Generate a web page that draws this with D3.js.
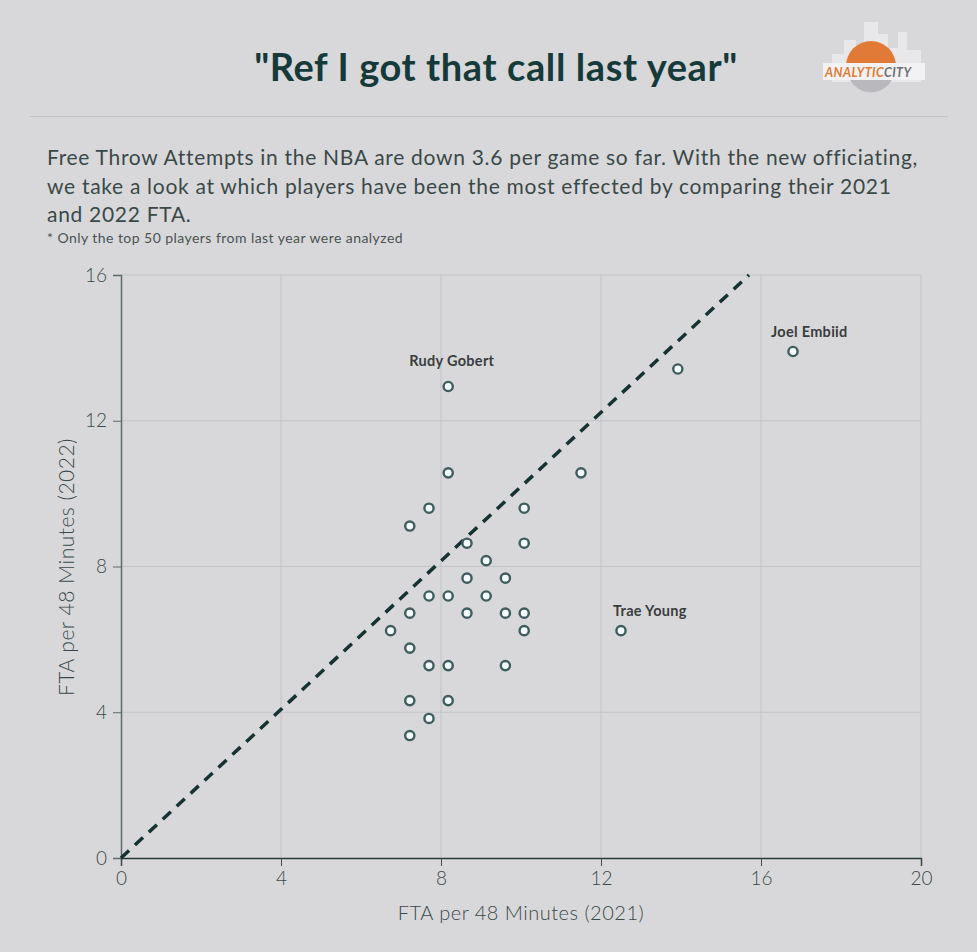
<!DOCTYPE html>
<html>
<head>
<meta charset="utf-8">
<script src="https://cdn.jsdelivr.net/npm/d3@7"></script>
<style>
  body { margin: 0; background: #d8d8da; }
  svg { display: block; font-family: Lato, "Open Sans", sans-serif; }
</style>
</head>
<body>
<script>
// FTA per 48 minutes, 2021 vs 2022
let fta2021 = [8.18, 13.92, 16.8, 8.18, 11.5, 7.7, 10.08, 7.22, 8.65, 10.08, 9.13, 8.65, 9.61,
               7.7, 8.18, 9.13, 7.22, 8.65, 9.61, 10.08, 6.74, 10.08, 12.5, 7.22, 7.7, 8.18, 9.61,
               7.22, 8.18, 7.7, 7.22]
let fta2022 = [12.94, 13.42, 13.9, 10.57, 10.57, 9.6, 9.6, 9.11, 8.64, 8.64, 8.16, 7.68, 7.68,
               7.19, 7.19, 7.19, 6.72, 6.72, 6.72, 6.72, 6.24, 6.24, 6.24, 5.76, 5.28, 5.28, 5.28,
               4.32, 4.32, 3.83, 3.36]
let labelNames = ["Rudy Gobert", "Joel Embiid", "Trae Young"]
let labelIndex = [0, 2, 22]
let xTicks = [0, 4, 8, 12, 16, 20]
let yTicks = [0, 4, 8, 12, 16]
let refLine = [[0, 0], [15.7, 16]]   // dashed reference line

let width = 977
let height = 952

let svg = d3.select('body')
    .append('svg')
    .attr('width', width)
    .attr('height', height)

svg.append('rect').attr('width', width).attr('height', height).attr('fill', '#d8d8da')

// title + rule
svg.append('text')
    .attr('x', 496).attr('y', 81)
    .attr('text-anchor', 'middle')
    .attr('font-size', 38).attr('font-weight', 700)
    .attr('letter-spacing', 0.6)
    .attr('fill', '#163a3a')
    .text('"Ref I got that call last year"')

svg.append('line')
    .attr('x1', 30).attr('x2', 948).attr('y1', 116.5).attr('y2', 116.5)
    .attr('stroke', '#c2c2c4')

// logo (rough)
let logo = svg.append('g').attr('transform', 'translate(822,20)')
let sky = [[10, 34, 12, 28], [22, 20, 12, 42], [34, 26, 8, 36], [42, 2, 14, 60], [56, 14, 10, 48], [66, 28, 10, 34], [76, 12, 9, 50], [85, 30, 14, 32]]
sky.forEach(function(b){
    logo.append('rect').attr('x', b[0]).attr('y', b[1]).attr('width', b[2]).attr('height', b[3]).attr('fill', '#e8e8ea')
})
logo.append('path').attr('d', 'M24,46 A25,25 0 0,1 74,46 Z').attr('fill', '#e07a36')
logo.append('path').attr('d', 'M28,60 A24,24 0 0,0 70,60 Z').attr('fill', '#b9b9bd')
logo.append('rect').attr('x', 1).attr('y', 43).attr('width', 102).attr('height', 17).attr('fill', '#f2f2f4')
let logoText = logo.append('text').attr('x', 3).attr('y', 56.5)
    .attr('font-size', 12.5).attr('font-weight', 700).attr('font-style', 'italic')
    .attr('letter-spacing', 0.4)
logoText.append('tspan').attr('fill', '#e07a36').text('ANALYTIC')
logoText.append('tspan').attr('fill', '#6f6f75').text('CITY')

// subtitle
let sub = [
    'Free Throw Attempts in the NBA are down 3.6 per game so far. With the new officiating,',
    'we take a look at which players have been the most effected by comparing their 2021',
    'and 2022 FTA.'
]
svg.selectAll('.sub')
    .data(sub)
    .enter().append('text')
    .attr('class', 'sub')
    .attr('x', 47)
    .attr('y', function(d, i){ return 165 + i * 28.5 })
    .attr('font-size', 21)
    .attr('letter-spacing', 0.7)
    .attr('fill', '#3b4848')
    .text(function(d){ return d })

svg.append('text')
    .attr('x', 47).attr('y', 243)
    .attr('font-size', 14)
    .attr('letter-spacing', 0.45)
    .attr('fill', '#4a5252')
    .text('* Only the top 50 players from last year were analyzed')

// scales
let xScale = d3.scaleLinear().domain([0, 20]).range([121, 921])
let yScale = d3.scaleLinear().domain([0, 16]).range([858, 275])

// grid
svg.append('g')
    .selectAll('line')
    .data(xTicks.slice(1))
    .enter().append('line')
    .attr('x1', function(d){ return xScale(d) }).attr('x2', function(d){ return xScale(d) })
    .attr('y1', yScale(16)).attr('y2', yScale(0))
    .attr('stroke', '#c4c4c6')

svg.append('g')
    .selectAll('line')
    .data(yTicks.slice(1))
    .enter().append('line')
    .attr('x1', xScale(0)).attr('x2', xScale(20))
    .attr('y1', function(d){ return yScale(d) }).attr('y2', function(d){ return yScale(d) })
    .attr('stroke', '#c4c4c6')

// axes
let y_axis = d3.axisLeft(yScale).tickValues(yTicks).tickSize(8).tickPadding(6)
let x_axis = d3.axisBottom(xScale).tickValues(xTicks).tickSize(8).tickPadding(6)

let gy = svg.append('g').attr('transform', 'translate(121,0)').call(y_axis)
gy.select('.domain').attr('stroke', '#5e6a6a').attr('stroke-width', 1.5)
gy.selectAll('.tick line').attr('stroke', '#5e6a6a')

let gx = svg.append('g').attr('transform', 'translate(0,858)').call(x_axis)
gx.select('.domain').attr('stroke', '#263838').attr('stroke-width', 1.5)
gx.selectAll('.tick line').attr('stroke', '#3e4c4c')

svg.selectAll('.tick text')
    .attr('font-size', 19).attr('font-weight', 300)
    .attr('font-family', 'Lato, sans-serif')
    .attr('fill', '#3b4848')

svg.append('text')
    .attr('x', 521).attr('y', 920)
    .attr('text-anchor', 'middle')
    .attr('font-size', 20).attr('font-weight', 300)
    .attr('letter-spacing', 0.5)
    .attr('fill', '#3b4848')
    .text('FTA per 48 Minutes (2021)')

svg.append('text')
    .attr('transform', 'translate(74,567) rotate(-90)')
    .attr('text-anchor', 'middle')
    .attr('font-size', 21).attr('font-weight', 300)
    .attr('letter-spacing', 0.5)
    .attr('fill', '#3b4848')
    .text('FTA per 48 Minutes (2022)')

// reference line
svg.append('path')
    .datum(refLine)
    .attr('d', d3.line().x(function(d){ return xScale(d[0]) }).y(function(d){ return yScale(d[1]) }))
    .attr('stroke', '#173232')
    .attr('stroke-width', 3.5)
    .attr('stroke-dasharray', '11,8')
    .attr('fill', 'none')

// points
svg.append('g')
    .selectAll('circle')
    .data(fta2021)
    .enter().append('circle')
    .attr('cx', function(d){ return xScale(d) })
    .attr('cy', function(d, i){ return yScale(fta2022[i]) })
    .attr('r', 4.6)
    .attr('fill', '#f4fbfb')
    .attr('stroke', '#3f5d5d')
    .attr('stroke-width', 2.4)

// labels
let labelDx = [-39, -22, -8]
let labelDy = [-20, -15, -15]
svg.append('g')
    .selectAll('text')
    .data(labelNames)
    .enter().append('text')
    .attr('x', function(d, i){ return xScale(fta2021[labelIndex[i]]) + labelDx[i] })
    .attr('y', function(d, i){ return yScale(fta2022[labelIndex[i]]) + labelDy[i] })
    .attr('font-size', 14.5).attr('font-weight', 700)
    .attr('letter-spacing', 0.3)
    .attr('fill', '#3a3d3d')
    .text(function(d){ return d })
</script>
</body>
</html>
